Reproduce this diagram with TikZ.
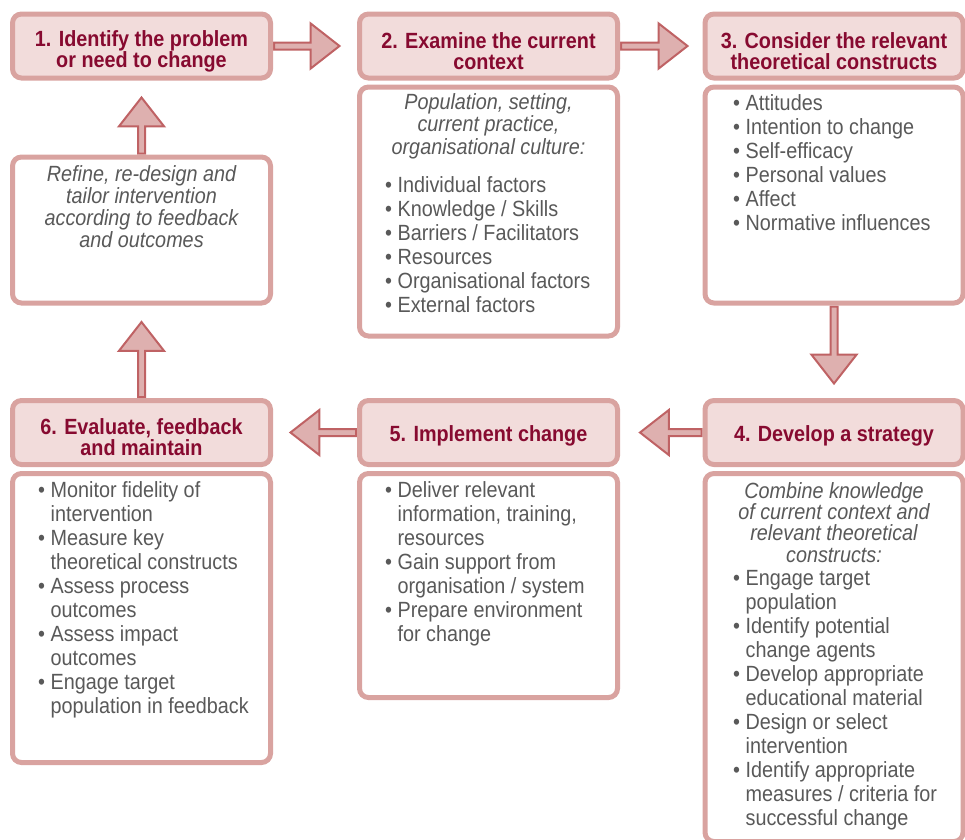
\documentclass[tikz,border=0pt]{standalone}
\usepackage{fontspec}
\setmainfont[FakeStretch=0.9]{Liberation Sans}
\usetikzlibrary{positioning,shapes.arrows}

\definecolor{boxline}{HTML}{D9A3A0}
\definecolor{headfill}{HTML}{F2DCDB}
\definecolor{arrline}{HTML}{BF6264}
\definecolor{arrfill}{HTML}{DEB0AF}
\definecolor{headtext}{HTML}{870A30}
\definecolor{bodytext}{HTML}{595959}

\pgfdeclarelayer{bg}
\pgfsetlayers{bg,main}

\tikzset{
  headbox/.style={draw=boxline, line width=5pt, rounded corners=9pt, fill=headfill,
    minimum width=258pt, minimum height=64pt, align=center, text=headtext,
    font=\fontsize{22}{21}\selectfont\bfseries},
  bodybox/.style={draw=boxline, line width=5pt, rounded corners=9pt, fill=white,
    minimum width=258pt},
  itext/.style={inner sep=0pt, align=center, text=bodytext,
    font=\fontsize{22}{22.5}\selectfont\itshape, anchor=north},
  btext/.style={inner sep=0pt, align=left, text=bodytext,
    font=\fontsize{22}{24}\selectfont, anchor=north west},
  blockarr/.style={single arrow, draw=arrline, fill=arrfill, line width=2pt,
    inner xsep=0pt, inner ysep=2.5pt, minimum width=0pt,
    single arrow head extend=19pt, single arrow tip angle=76, anchor=tail}
}
\newcommand{\ind}{\hphantom{•\ }}
\newcommand{\hstrut}{\rule{0pt}{26pt}}

\begin{document}
\begin{tikzpicture}[x=1pt,y=-1pt]
\useasboundingbox (0,0) rectangle (965,839);

% headers
\node[headbox] (h1) at (141.5,46) {\hstrut 1. Identify the problem\\or need to change};
\node[headbox] (h2) at (488.5,46) {\hstrut 2. Examine the current\\context};
\node[headbox] (h3) at (834,46) {\hstrut 3. Consider the relevant\\theoretical constructs};
\node[headbox] (h4) at (834,432.5) {\rule{0pt}{22pt}4. Develop a strategy};
\node[headbox] (h5) at (488.5,432.5) {\rule{0pt}{22pt}5. Implement change};
\node[headbox] (h6) at (141.5,432.5) {\hstrut 6. Evaluate, feedback\\and maintain};

% bodies
\node[bodybox, minimum height=146pt] (r1) at (141.5,230) {};
\node[bodybox, minimum height=249pt, below=4pt of h2] (b2) {};
\node[bodybox, minimum height=216pt, below=4pt of h3] (b3) {};
\node[bodybox, minimum height=368pt, below=4pt of h4] (b4) {};
\node[bodybox, minimum height=224pt, below=4pt of h5] (b5) {};
\node[bodybox, minimum height=289pt, below=4pt of h6] (b6) {};

% texts
\node[itext, font=\fontsize{22}{22}\selectfont\itshape] (t1) at (141.5,165) {Refine, re-design and\\tailor intervention\\according to feedback\\and outcomes};
\node[itext] (t2a) at (488.5,93) {Population, setting,\\current practice,\\organisational culture:};
\node[btext] (t2b) at (385,176) {• Individual factors\\• Knowledge / Skills\\• Barriers / Facilitators\\• Resources\\• Organisational factors\\• External factors};
\node[btext] (t3) at (733,94) {• Attitudes\\• Intention to change\\• Self-efficacy\\• Personal values\\• Affect\\• Normative influences};
\node[itext, font=\fontsize{22}{21.3}\selectfont\itshape] (t4a) at (834,482) {Combine knowledge\\of current context and\\relevant theoretical\\constructs:};
\node[btext] (t4b) at (733,570) {• Engage target\\\ind population\\• Identify potential\\\ind change agents\\• Develop appropriate\\\ind educational material\\• Design or select\\\ind intervention\\• Identify appropriate\\\ind measures / criteria for\\\ind successful change};
\node[btext] (t5) at (385,481) {• Deliver relevant\\\ind information, training,\\\ind resources\\• Gain support from\\\ind organisation / system\\• Prepare environment\\\ind for change};
\node[btext] (t6) at (38,481) {• Monitor fidelity of\\\ind intervention\\• Measure key\\\ind theoretical constructs\\• Assess process\\\ind outcomes\\• Assess impact\\\ind outcomes\\• Engage target\\\ind population in feedback};

% arrows
\begin{pgfonlayer}{bg}
\node[blockarr, minimum height=65.5pt] (a12) at (h1.east) {};
\node[blockarr, minimum height=66.5pt] (a23) at (h2.east) {};
\node[blockarr, minimum height=77pt, rotate=-90] (a34) at (b3.south) {};
\node[blockarr, minimum height=61.5pt, rotate=180] (a45) at (h4.west) {};
\node[blockarr, minimum height=65.5pt, rotate=180] (a56) at (h5.west) {};
\node[blockarr, minimum height=75pt, rotate=90] (a6r) at (h6.north) {};
\node[blockarr, minimum height=56pt, rotate=90] (ar1) at (r1.north) {};
\end{pgfonlayer}
\end{tikzpicture}
\end{document}
